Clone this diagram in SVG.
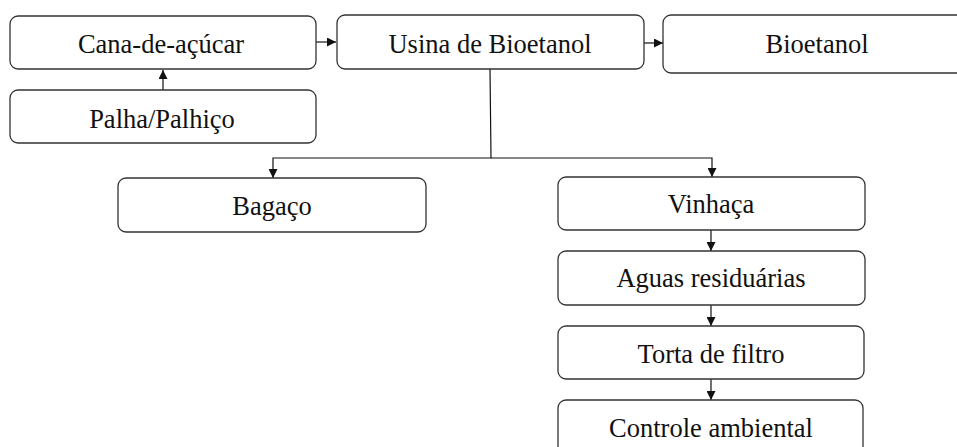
<svg xmlns="http://www.w3.org/2000/svg" width="957" height="447" viewBox="0 0 957 447">
  <style>
    .box { fill: #ffffff; stroke: #333333; stroke-width: 1.3; }
    .lbl { font-family: "Liberation Serif", "Times New Roman", serif; font-size: 26.5px; fill: #111111; text-anchor: middle; }
    .wire { fill: none; stroke: #111111; stroke-width: 1.2; }
  </style>
  <defs>
    <marker id="arrow" viewBox="0 0 10 10" refX="10" refY="5" markerWidth="9" markerHeight="9" markerUnits="userSpaceOnUse" orient="auto">
      <path d="M0,0 L10,5 L0,10 Z" fill="#111111"/>
    </marker>
  </defs>

  <rect width="957" height="447" fill="#ffffff"/>

  <g id="connectors">
    <line class="wire" x1="163" y1="90" x2="163" y2="70" marker-end="url(#arrow)"/>
    <line class="wire" x1="316" y1="42" x2="336" y2="42" marker-end="url(#arrow)"/>
    <line class="wire" x1="644" y1="43" x2="663" y2="43" marker-end="url(#arrow)"/>
    <polyline class="wire" points="490,69 491,158 273,158 273,178" marker-end="url(#arrow)"/>
    <polyline class="wire" points="491,158 712,158 712,177" marker-end="url(#arrow)"/>
    <line class="wire" x1="711" y1="230" x2="711" y2="251" marker-end="url(#arrow)"/>
    <line class="wire" x1="711" y1="305" x2="711" y2="326" marker-end="url(#arrow)"/>
    <line class="wire" x1="711" y1="379" x2="711" y2="400" marker-end="url(#arrow)"/>
  </g>

  <g id="cana">
    <rect class="box" x="10" y="16" width="306" height="53" rx="8"/>
    <text class="lbl" x="161" y="53">Cana-de-açúcar</text>
  </g>
  <g id="palha">
    <rect class="box" x="10" y="90" width="306" height="53" rx="8"/>
    <text class="lbl" x="162" y="128">Palha/Palhiço</text>
  </g>
  <g id="usina">
    <rect class="box" x="337" y="15" width="307" height="54" rx="8"/>
    <text class="lbl" x="490" y="53">Usina de Bioetanol</text>
  </g>
  <g id="bioetanol">
    <rect class="box" x="663" y="15" width="307" height="58" rx="8"/>
    <text class="lbl" x="817" y="53">Bioetanol</text>
  </g>
  <g id="bagaco">
    <rect class="box" x="118" y="178" width="308" height="54" rx="8"/>
    <text class="lbl" x="272" y="215">Bagaço</text>
  </g>
  <g id="vinhaca">
    <rect class="box" x="558" y="177" width="307" height="53" rx="8"/>
    <text class="lbl" x="711" y="213">Vinhaça</text>
  </g>
  <g id="aguas">
    <rect class="box" x="558" y="251" width="307" height="54" rx="8"/>
    <text class="lbl" x="711" y="287">Aguas residuárias</text>
  </g>
  <g id="torta">
    <rect class="box" x="558" y="326" width="306" height="53" rx="8"/>
    <text class="lbl" x="711" y="363">Torta de filtro</text>
  </g>
  <g id="controle">
    <rect class="box" x="558" y="400" width="305" height="56" rx="8"/>
    <text class="lbl" x="711" y="437">Controle ambiental</text>
  </g>
</svg>
